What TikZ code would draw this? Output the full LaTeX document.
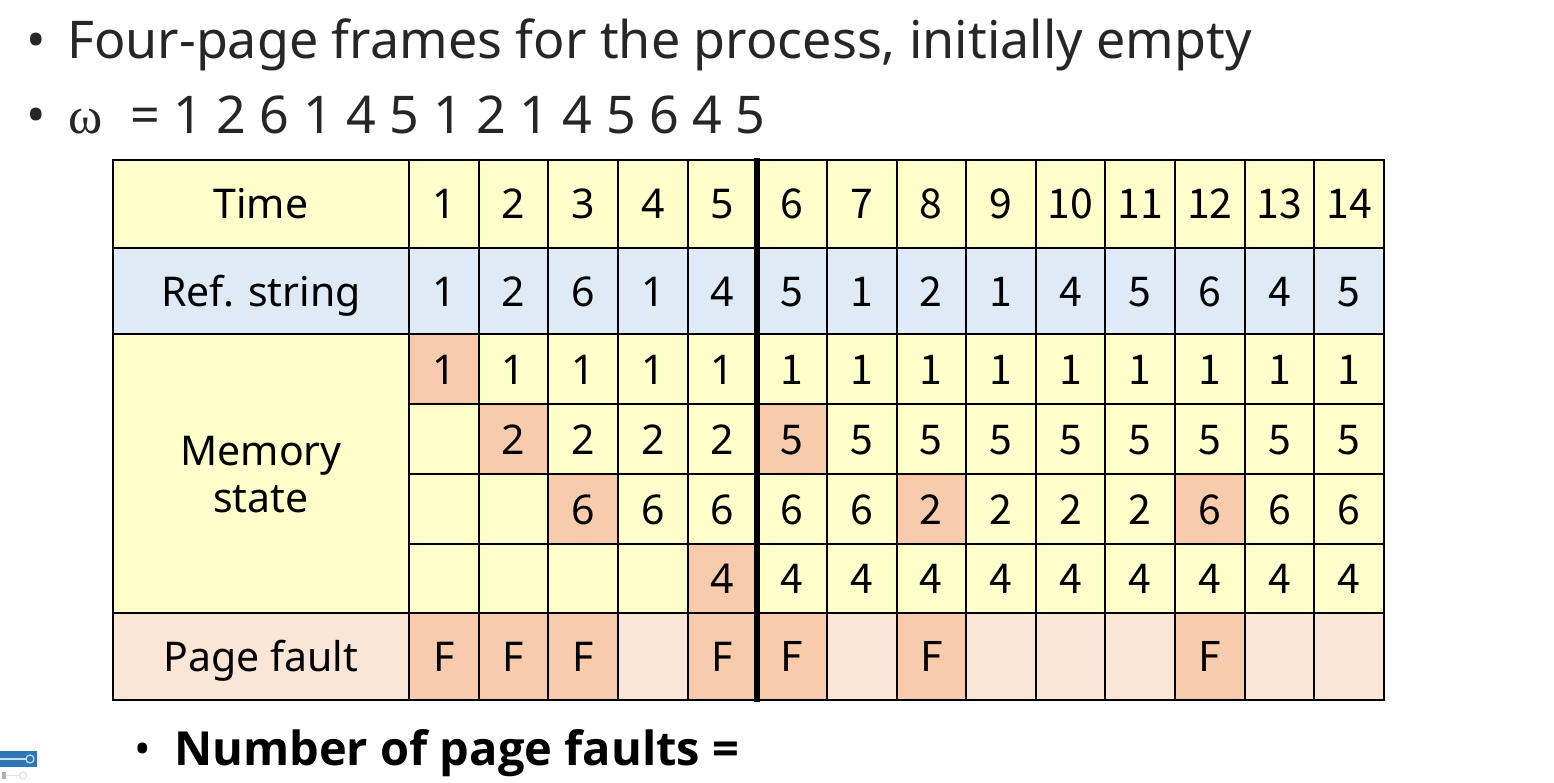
\documentclass[tikz,border=0pt]{standalone}
\usepackage{fontspec}
\setmainfont{Noto Sans}
\newfontfamily\cjkf{Noto Sans CJK SC}
\newfontfamily\omegaf{Liberation Serif}
\newfontfamily\boldf{Open Sans}
\definecolor{cyel}{HTML}{FFFFCC}
\definecolor{cblue}{HTML}{DEEAF6}
\definecolor{csal}{HTML}{F8CBAD}
\definecolor{cpeach}{HTML}{FBE5D6}
\definecolor{ctxt}{HTML}{262626}
\definecolor{cicon}{HTML}{2E75B6}
\tikzset{
  tabtxt/.style={font=\fontsize{41}{48}\selectfont, anchor=base, inner sep=0pt},
  righttxt/.style={font=\cjkf\fontsize{41}{48}\selectfont, anchor=base, inner sep=0pt},
  bullettxt/.style={font=\fontsize{52}{60}\selectfont, text=ctxt, anchor=base west, inner sep=0pt},
  grid/.style={line width=2pt, black},
  thickline/.style={line width=5.5pt, black}
}
\begin{document}
\begin{tikzpicture}[x=1pt,y=-1pt]
\useasboundingbox (0,0) rectangle (1554,783);
% header bullets
\node[bullettxt] (b1) at (26,59) {•};
\node[bullettxt] (t1) at (67,59) {Four-page frames for the process, initially empty};
\node[bullettxt] (b2) at (26,134) {•};
\node[bullettxt] (t2a) at (68,134) {{\omegaf ω}};
\node[bullettxt] (t2b) at (130,134) {= 1 2 6 1 4 5 1 2 1 4 5 6 4 5};
% backgrounds
\fill[cyel] (113,160) rectangle (1384,248);
\fill[cblue] (113,248) rectangle (1384,334);
\fill[cyel] (113,334) rectangle (1384,613);
\fill[cpeach] (113,613) rectangle (1384,700);
% salmon memory cells: column/rowtop
\foreach \c/\t in {1/334,2/404,3/474,5/544,6/404,8/474,12/474}{
  \pgfmathsetmacro\xl{409+(\c-1)*69.643}
  \pgfmathsetmacro\xr{409+\c*69.643}
  \pgfmathsetmacro\yb{\t+70}
  \fill[csal] (\xl,\t) rectangle (\xr,\yb);
}
\foreach \c in {1,2,3,5,6,8,12}{
  \pgfmathsetmacro\xl{409+(\c-1)*69.643}
  \pgfmathsetmacro\xr{409+\c*69.643}
  \fill[csal] (\xl,613) rectangle (\xr,700);
}
% grid
\foreach \y in {160,248,334,613,700}{ \draw[grid] (112,\y) -- (1385,\y); }
\foreach \y in {404,474,544}{ \draw[grid] (409,\y) -- (1385,\y); }
\draw[grid] (113,159) -- (113,701);
\draw[grid] (409,159) -- (409,701);
\foreach \c in {1,...,14}{
  \pgfmathsetmacro\xr{409+\c*69.643}
  \draw[grid] (\xr,159) -- (\xr,701);
}
\draw[thickline] (757.2,158) -- (757.2,702);
% row labels
\node[tabtxt] (ltime) at (261,219) {Time};
\node[tabtxt] (lref) at (261,306) {Ref. string};
\node[tabtxt] (lmem1) at (261,465) {Memory};
\node[tabtxt] (lmem2) at (261,512) {state};
\node[tabtxt] (lpf) at (261,671) {Page fault};
% cells
\foreach \c/\r/\ma/\mb/\mc/\md/\f in {
  1/1/1/{}/{}/{}/F, 2/2/1/2/{}/{}/F, 3/6/1/2/6/{}/F, 4/1/1/2/6/{}/{},
  5/4/1/2/6/4/F, 6/5/1/5/6/4/F, 7/1/1/5/6/4/{}, 8/2/1/5/2/4/F,
  9/1/1/5/2/4/{}, 10/4/1/5/2/4/{}, 11/5/1/5/2/4/{}, 12/6/1/5/6/4/F,
  13/4/1/5/6/4/{}, 14/5/1/5/6/4/{}}{
  \pgfmathsetmacro\xc{409+(\c-0.5)*69.643}
  \ifnum\c<6
    \tikzset{cellstyle/.style={tabtxt}}
  \else
    \tikzset{cellstyle/.style={righttxt}}
  \fi
  \node[cellstyle] (time\c) at (\xc,219) {\c};
  \node[cellstyle] (ref\c) at (\xc,306) {\r};
  \node[cellstyle] (ma\c) at (\xc,384) {\ma};
  \node[cellstyle] (mb\c) at (\xc,454) {\mb};
  \node[cellstyle] (mc\c) at (\xc,524) {\mc};
  \node[cellstyle] (md\c) at (\xc,593) {\md};
  \node[cellstyle] (pf\c) at (\xc,671) {\f};
}
% bottom bullet
\node[font=\fontsize{44}{52}\selectfont, anchor=base west, inner sep=0pt] (b3) at (134,764) {•};
\node[font=\boldf\bfseries\fontsize{47}{54}\selectfont, anchor=base west, inner sep=0pt] (t3) at (174,765) {Number of page faults =};
% corner icon
\fill[cicon] (0,751) rectangle (37,767);
\draw[white!75!cicon, line width=1.2pt] (0,759) -- (26,759);
\draw[white!75!cicon, line width=1.2pt] (30,759) circle (4);
\fill[gray!60] (2,772) rectangle (6,779);
\draw[gray!25, line width=1pt] (6,775.5) -- (19,775.5);
\draw[gray!25, line width=1pt] (23,775.5) circle (3.5);
\end{tikzpicture}
\end{document}
